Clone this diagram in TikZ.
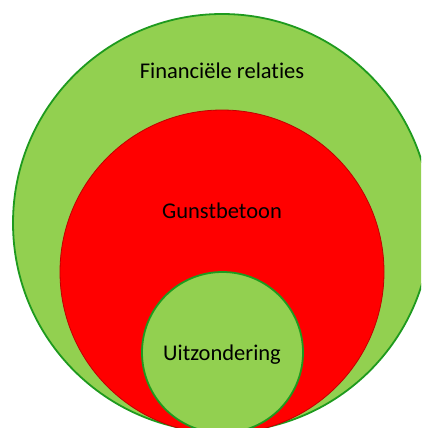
\documentclass[tikz,border=0pt]{standalone}
\usepackage{fontspec}
\setmainfont{Carlito}[Ligatures=NoCommon]
\definecolor{lichtgroen}{HTML}{92D050}
\definecolor{donkergroen}{HTML}{1E9A1E}
\definecolor{donkerrood}{HTML}{C00000}
\begin{document}
\begin{tikzpicture}[x=1pt,y=-1pt,line join=round,line cap=round,font=\fontsize{22.5}{26}\selectfont,
	cirkel/.style={circle,inner sep=0pt,draw=donkergroen,line width=1.8pt,fill=lichtgroen},
	tekst/.style={inner sep=0pt,anchor=base,text=black}]
			\useasboundingbox (0,0) rectangle (421,428);
			\clip (0,0) rectangle (421,428);
			\node[cirkel,minimum size=418] (relaties) at (222,223) {};
			\node[circle,inner sep=0pt,draw=donkerrood,line width=0.8pt,fill=red,minimum size=324] (gunst) at (222,272) {};
			\node[cirkel,minimum size=161] (uitz) at (222.5,352.5) {};
			\node[tekst] (trelaties) at (222,78) {Financiële relaties};
			\node[tekst] (tgunst) at (222,218) {Gunstbetoon};
			\node[tekst] (tuitz) at (222,360) {Uitzondering};
	\end{tikzpicture}
\end{document}
